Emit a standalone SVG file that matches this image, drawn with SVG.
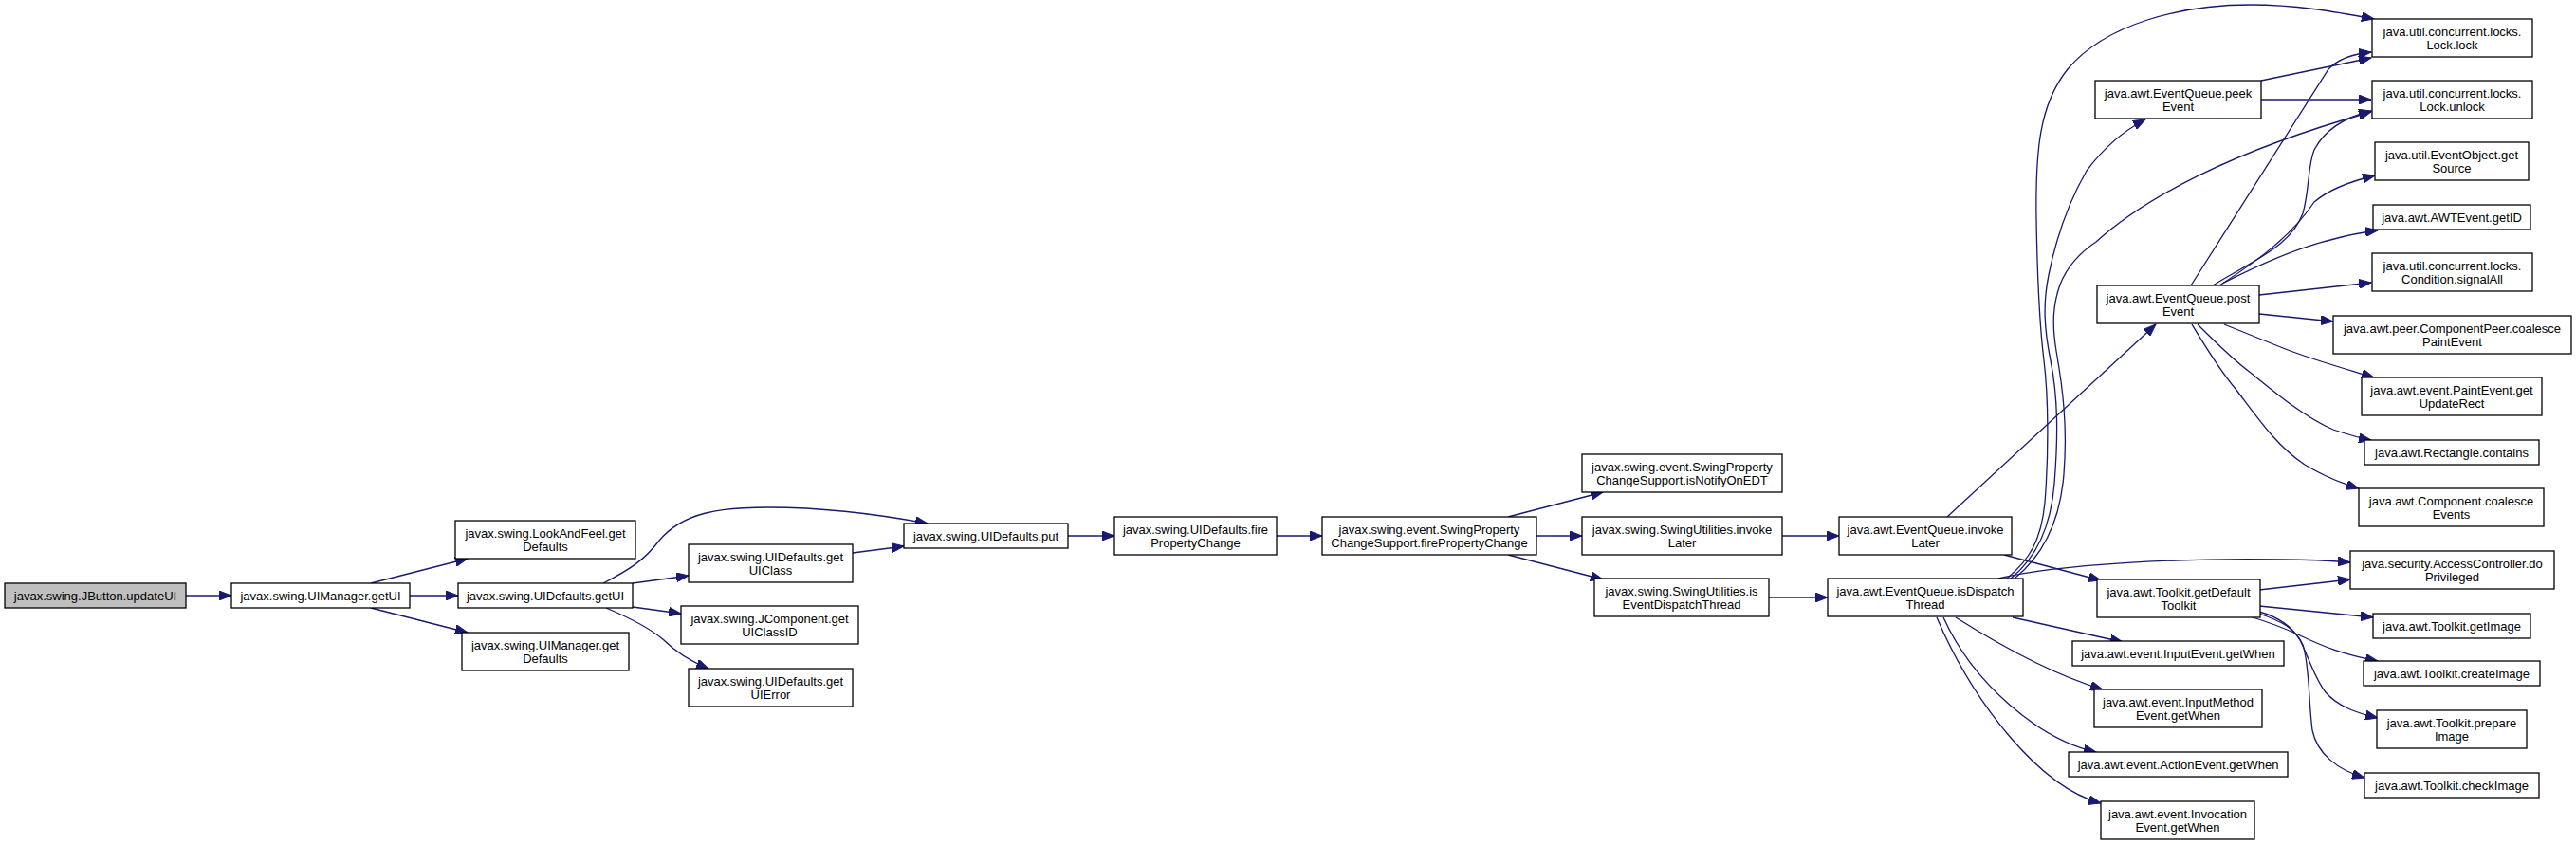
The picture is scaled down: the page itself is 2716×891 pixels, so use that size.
<svg xmlns="http://www.w3.org/2000/svg" width="2716" height="891" viewBox="0 0 2716 891">
<style>
.n rect{fill:#ffffff;stroke:#000000;stroke-width:1.3}
.n.root rect{fill:#bfbfbf}
.n text{font-family:"Liberation Sans",Arial,sans-serif;font-size:13px;text-anchor:middle;fill:#000000}
.e path{fill:none;stroke:#191970;stroke-width:1.3;marker-end:url(#ah)}
</style>
<defs>
<marker id="ah" markerUnits="userSpaceOnUse" markerWidth="14" markerHeight="10" refX="13" refY="5" orient="auto">
<path d="M0,0 L13,5 L0,10 z" fill="#191970" stroke="#191970" stroke-width="1"/>
</marker>
</defs>
<rect width="2716" height="891" fill="#ffffff"/>
<g id="edges" class="e">
<path d="M196,628 L244,628"/>
<path d="M391,615 L493,589"/>
<path d="M432,628 L483,628"/>
<path d="M391,641 L493,667"/>
<path d="M636,615 C665,600 680,590 695,570 C720,540 760,535 810,535 C870,535 930,543 978,552"/>
<path d="M667,615 L726,607"/>
<path d="M667,640 L718,647"/>
<path d="M639,641 C665,652 685,662 700,675 C715,690 730,698 747,705"/>
<path d="M899,583 L953,576"/>
<path d="M1126,565 L1175,565"/>
<path d="M1346,565 L1394,565"/>
<path d="M1590,545 L1690,519"/>
<path d="M1620,565 L1668,565"/>
<path d="M1590,585 L1690,611"/>
<path d="M1879,565 L1939,565"/>
<path d="M1865,630 L1927,630"/>
<path d="M2053,545 L2273,342"/>
<path d="M2113,585 L2215,612"/>
<path d="M2116,610 C2140,590 2152,570 2156,530 C2160,480 2160,420 2155,380 C2150,340 2148,290 2147,230 C2146,160 2150,110 2180,73 C2220,25 2300,5 2373,5 C2420,5 2460,12 2503,20"/>
<path d="M2120,610 C2145,590 2162,560 2166,510 C2170,460 2170,420 2162,380 C2155,345 2154,320 2160,290 C2168,250 2180,215 2200,180 C2215,160 2235,140 2262,126"/>
<path d="M2124,610 C2155,585 2172,550 2176,500 C2180,450 2175,410 2168,370 C2163,340 2165,320 2172,300 C2180,280 2195,265 2210,255 C2260,210 2350,160 2500,118"/>
<path d="M2107,610 C2169,595 2300,588 2407,590 C2430,590 2455,591 2478,593"/>
<path d="M2122,651 L2238,677"/>
<path d="M2062,651 C2100,675 2160,710 2217,727"/>
<path d="M2049,651 C2080,720 2150,780 2210,793"/>
<path d="M2042,651 C2080,740 2150,830 2215,847"/>
<path d="M2384,85 L2500,61"/>
<path d="M2384,105 L2500,105"/>
<path d="M2310,301 L2455,73 C2465,62 2480,57 2500,55"/>
<path d="M2333,301 C2375,275 2415,260 2428,225 C2435,200 2433,175 2440,158 C2452,135 2475,123 2500,117"/>
<path d="M2340,301 C2380,275 2415,250 2440,213 C2455,200 2475,192 2504,185"/>
<path d="M2343,299 C2380,280 2420,262 2457,253 C2475,248 2490,245 2507,243"/>
<path d="M2382,311 L2500,298"/>
<path d="M2382,331 L2460,339"/>
<path d="M2345,342 C2370,352 2390,360 2407,367 C2440,380 2470,388 2503,398"/>
<path d="M2317,342 C2335,360 2355,380 2373,393 C2400,415 2430,440 2460,453 C2475,458 2488,462 2500,464"/>
<path d="M2311,342 C2325,365 2340,390 2357,410 C2380,440 2400,470 2430,490 C2450,502 2470,510 2487,515"/>
<path d="M2382,622 L2478,611"/>
<path d="M2382,639 L2502,651"/>
<path d="M2372,650 C2395,657 2410,663 2425,670 C2450,682 2470,690 2507,697"/>
<path d="M2382,645 C2400,650 2415,658 2425,675 C2433,690 2440,715 2452,730 C2465,745 2485,752 2507,757"/>
<path d="M2382,647 C2405,655 2420,662 2428,680 C2435,700 2434,740 2438,770 C2443,795 2465,812 2493,820"/>
</g>
<g id="n_updateUI" class="n root"><rect x="5" y="615" width="191" height="26"/><text x="100.5" y="632.5">javax.swing.JButton.updateUI</text></g>
<g id="n_mgrGetUI" class="n"><rect x="244" y="615" width="188" height="26"/><text x="338" y="632.5">javax.swing.UIManager.getUI</text></g>
<g id="n_lafDefaults" class="n"><rect x="480" y="549" width="190" height="40"/><text x="575" y="566.5">javax.swing.LookAndFeel.get</text><text x="575" y="580.5">Defaults</text></g>
<g id="n_udGetUI" class="n"><rect x="483" y="615" width="184" height="26"/><text x="575" y="632.5">javax.swing.UIDefaults.getUI</text></g>
<g id="n_mgrDefaults" class="n"><rect x="487" y="667" width="176" height="40"/><text x="575" y="684.5">javax.swing.UIManager.get</text><text x="575" y="698.5">Defaults</text></g>
<g id="n_getUIClass" class="n"><rect x="726" y="574" width="173" height="40"/><text x="812.5" y="591.5">javax.swing.UIDefaults.get</text><text x="812.5" y="605.5">UIClass</text></g>
<g id="n_getUIClassID" class="n"><rect x="718" y="639" width="187" height="40"/><text x="811.5" y="656.5">javax.swing.JComponent.get</text><text x="811.5" y="670.5">UIClassID</text></g>
<g id="n_getUIError" class="n"><rect x="726" y="705" width="173" height="40"/><text x="812.5" y="722.5">javax.swing.UIDefaults.get</text><text x="812.5" y="736.5">UIError</text></g>
<g id="n_put" class="n"><rect x="953" y="552" width="173" height="26"/><text x="1039.5" y="569.5">javax.swing.UIDefaults.put</text></g>
<g id="n_fire" class="n"><rect x="1175" y="545" width="171" height="40"/><text x="1260.5" y="562.5">javax.swing.UIDefaults.fire</text><text x="1260.5" y="576.5">PropertyChange</text></g>
<g id="n_spcFire" class="n"><rect x="1394" y="545" width="226" height="40"/><text x="1507" y="562.5">javax.swing.event.SwingProperty</text><text x="1507" y="576.5">ChangeSupport.firePropertyChange</text></g>
<g id="n_notifyEDT" class="n"><rect x="1668" y="479" width="211" height="40"/><text x="1773.5" y="496.5">javax.swing.event.SwingProperty</text><text x="1773.5" y="510.5">ChangeSupport.isNotifyOnEDT</text></g>
<g id="n_suInvokeLater" class="n"><rect x="1668" y="545" width="211" height="40"/><text x="1773.5" y="562.5">javax.swing.SwingUtilities.invoke</text><text x="1773.5" y="576.5">Later</text></g>
<g id="n_suIsEDT" class="n"><rect x="1681" y="610" width="184" height="40"/><text x="1773" y="627.5">javax.swing.SwingUtilities.is</text><text x="1773" y="641.5">EventDispatchThread</text></g>
<g id="n_eqInvokeLater" class="n"><rect x="1939" y="545" width="182" height="40"/><text x="2030" y="562.5">java.awt.EventQueue.invoke</text><text x="2030" y="576.5">Later</text></g>
<g id="n_eqIsDispatch" class="n"><rect x="1927" y="610" width="206" height="40"/><text x="2030" y="627.5">java.awt.EventQueue.isDispatch</text><text x="2030" y="641.5">Thread</text></g>
<g id="n_peekEvent" class="n"><rect x="2209" y="85" width="175" height="40"/><text x="2296.5" y="102.5">java.awt.EventQueue.peek</text><text x="2296.5" y="116.5">Event</text></g>
<g id="n_postEvent" class="n"><rect x="2211" y="301" width="171" height="40"/><text x="2296.5" y="318.5">java.awt.EventQueue.post</text><text x="2296.5" y="332.5">Event</text></g>
<g id="n_getDefaultToolkit" class="n"><rect x="2211" y="611" width="172" height="40"/><text x="2297" y="628.5">java.awt.Toolkit.getDefault</text><text x="2297" y="642.5">Toolkit</text></g>
<g id="n_inputEventWhen" class="n"><rect x="2185" y="676" width="223" height="26"/><text x="2296.5" y="693.5">java.awt.event.InputEvent.getWhen</text></g>
<g id="n_inputMethodWhen" class="n"><rect x="2208" y="727" width="177" height="40"/><text x="2296.5" y="744.5">java.awt.event.InputMethod</text><text x="2296.5" y="758.5">Event.getWhen</text></g>
<g id="n_actionEventWhen" class="n"><rect x="2181" y="793" width="231" height="26"/><text x="2296.5" y="810.5">java.awt.event.ActionEvent.getWhen</text></g>
<g id="n_invocationWhen" class="n"><rect x="2215" y="845" width="162" height="40"/><text x="2296" y="862.5">java.awt.event.Invocation</text><text x="2296" y="876.5">Event.getWhen</text></g>
<g id="n_lock" class="n"><rect x="2501" y="20" width="169" height="40"/><text x="2585.5" y="37.5">java.util.concurrent.locks.</text><text x="2585.5" y="51.5">Lock.lock</text></g>
<g id="n_unlock" class="n"><rect x="2501" y="85" width="169" height="40"/><text x="2585.5" y="102.5">java.util.concurrent.locks.</text><text x="2585.5" y="116.5">Lock.unlock</text></g>
<g id="n_getSource" class="n"><rect x="2504" y="150" width="162" height="40"/><text x="2585" y="167.5">java.util.EventObject.get</text><text x="2585" y="181.5">Source</text></g>
<g id="n_getID" class="n"><rect x="2502" y="216" width="166" height="26"/><text x="2585" y="233.5">java.awt.AWTEvent.getID</text></g>
<g id="n_signalAll" class="n"><rect x="2501" y="267" width="169" height="40"/><text x="2585.5" y="284.5">java.util.concurrent.locks.</text><text x="2585.5" y="298.5">Condition.signalAll</text></g>
<g id="n_coalescePaint" class="n"><rect x="2460" y="333" width="251" height="40"/><text x="2585.5" y="350.5">java.awt.peer.ComponentPeer.coalesce</text><text x="2585.5" y="364.5">PaintEvent</text></g>
<g id="n_updateRect" class="n"><rect x="2490" y="398" width="190" height="40"/><text x="2585" y="415.5">java.awt.event.PaintEvent.get</text><text x="2585" y="429.5">UpdateRect</text></g>
<g id="n_contains" class="n"><rect x="2493" y="464" width="184" height="26"/><text x="2585" y="481.5">java.awt.Rectangle.contains</text></g>
<g id="n_coalesceEvents" class="n"><rect x="2487" y="515" width="195" height="40"/><text x="2584.5" y="532.5">java.awt.Component.coalesce</text><text x="2584.5" y="546.5">Events</text></g>
<g id="n_doPrivileged" class="n"><rect x="2478" y="581" width="215" height="40"/><text x="2585.5" y="598.5">java.security.AccessController.do</text><text x="2585.5" y="612.5">Privileged</text></g>
<g id="n_getImage" class="n"><rect x="2502" y="647" width="166" height="26"/><text x="2585" y="664.5">java.awt.Toolkit.getImage</text></g>
<g id="n_createImage" class="n"><rect x="2492" y="697" width="186" height="26"/><text x="2585" y="714.5">java.awt.Toolkit.createImage</text></g>
<g id="n_prepareImage" class="n"><rect x="2506" y="749" width="158" height="40"/><text x="2585" y="766.5">java.awt.Toolkit.prepare</text><text x="2585" y="780.5">Image</text></g>
<g id="n_checkImage" class="n"><rect x="2493" y="815" width="184" height="26"/><text x="2585" y="832.5">java.awt.Toolkit.checkImage</text></g>
</svg>
